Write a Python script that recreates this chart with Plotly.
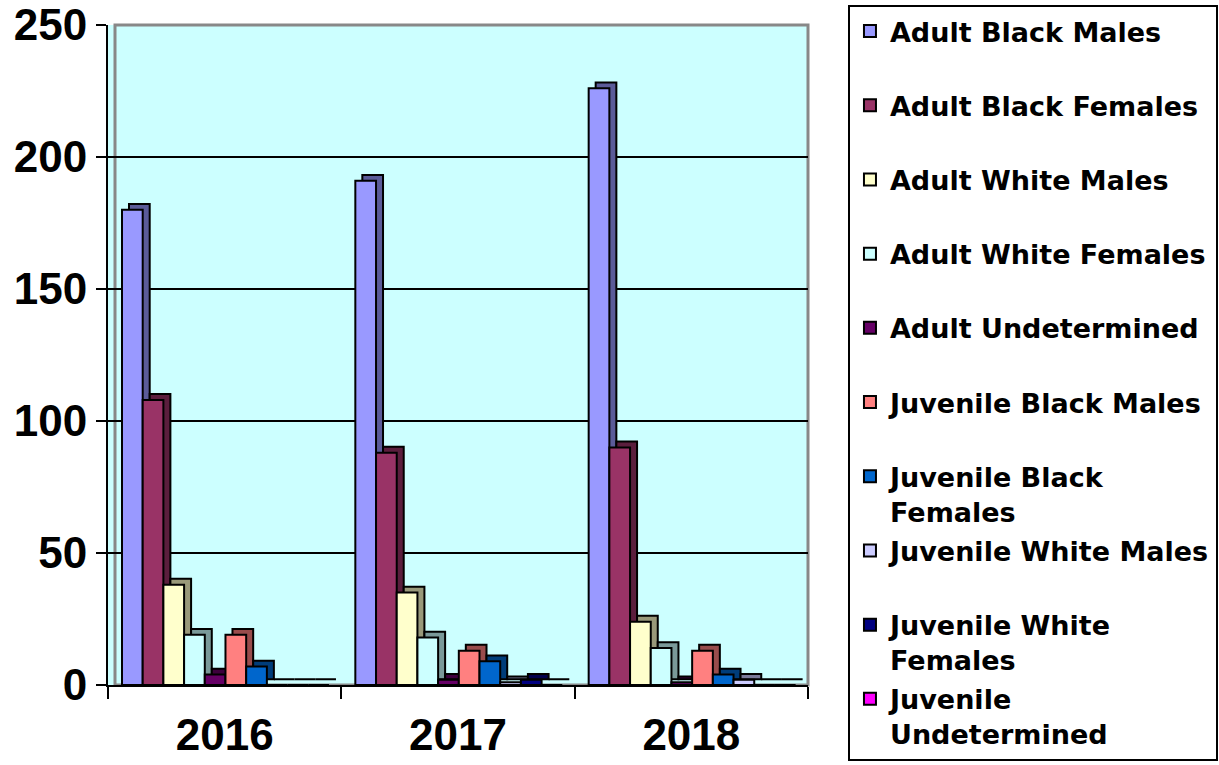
import plotly.graph_objects as go

years = ["2016", "2017", "2018"]
series_names = [
    "Adult Black Males",
    "Adult Black Females",
    "Adult White Males",
    "Adult White Females",
    "Adult Undetermined",
    "Juvenile Black Males",
    "Juvenile Black<br>Females",
    "Juvenile White Males",
    "Juvenile White<br>Females",
    "Juvenile<br>Undetermined",
]
adult_black_males = [180, 191, 226]
adult_black_females = [108, 88, 90]
adult_white_males = [38, 35, 24]
adult_white_females = [19, 18, 14]
adult_undetermined = [4, 2, 1]
juvenile_black_males = [19, 13, 13]
juvenile_black_females = [7, 9, 4]
juvenile_white_males = [0, 1, 2]
juvenile_white_females = [0, 2, 0]
juvenile_undetermined = [0, 0, 0]

values = [
    adult_black_males, adult_black_females, adult_white_males, adult_white_females,
    adult_undetermined, juvenile_black_males, juvenile_black_females,
    juvenile_white_males, juvenile_white_females, juvenile_undetermined,
]
colors = ["#9999FF", "#993366", "#FFFFCC", "#CCFFFF", "#660066",
          "#FF8080", "#0066CC", "#CCCCFF", "#000080", "#FF00FF"]


def darker(hex_color, f=0.6):
    h = hex_color.lstrip("#")
    r, g, b = (int(h[i:i + 2], 16) for i in (0, 2, 4))
    return "#%02X%02X%02X" % (int(r * f), int(g * f), int(b * f))


def legend_label(name):
    # every legend entry occupies two text lines, as in the reference
    return name if "<br>" in name else name + "<br> "


FONT = "Liberation Sans, Arial, sans-serif"
LEGEND_FONT = "DejaVu Sans, Liberation Sans, Arial, sans-serif"

# bar geometry (in category units) for a pseudo-3D look
BAR_W = 0.0887
START = -0.44
DEPTH_X = 0.03
DEPTH_Y = 2.2

fig = go.Figure()
for i, (name, vals, col) in enumerate(zip(series_names, values, colors)):
    off = START + i * BAR_W
    # side / top face (depth)
    fig.add_trace(go.Bar(
        x=years, y=vals, base=[DEPTH_Y] * len(vals),
        offset=off + DEPTH_X, width=BAR_W,
        marker_color=darker(col), marker_line_color="black", marker_line_width=2,
        showlegend=False, hoverinfo="skip",
    ))
    # front face
    fig.add_trace(go.Bar(
        x=years, y=vals, name=legend_label(name), offset=off, width=BAR_W,
        marker_color=col, marker_line_color="black", marker_line_width=2,
        legendgroup=f"g{i}",
    ))

fig.update_layout(
    width=1219, height=765,
    margin=dict(l=108, r=411, t=25, b=80, autoexpand=False),
    paper_bgcolor="white",
    plot_bgcolor="#CCFFFF",
    barmode="overlay",
    font=dict(family=FONT, color="black"),
    showlegend=True,
    legend=dict(
        x=1.0571, xanchor="left", y=1.0303, yanchor="top",
        bordercolor="black", borderwidth=2, bgcolor="white",
        font=dict(family=LEGEND_FONT, size=27, weight="bold", color="black"),
        tracegroupgap=1,
        valign="top",
        itemwidth=30,
        maxheight=1.0,
    ),
    xaxis=dict(
        automargin=False,
        showline=True, linecolor="black", linewidth=2,
        ticks="outside", tickson="boundaries", ticklen=12, tickwidth=2, tickcolor="black",
        tickfont=dict(family=FONT, size=44, weight="bold", color="black"),
        ticklabelstandoff=10,
        showgrid=False,
    ),
    yaxis=dict(
        automargin=False,
        range=[0, 250], dtick=50,
        showline=True, linecolor="black", linewidth=2,
        ticks="outside", ticklen=10, tickwidth=2, tickcolor="black",
        tickfont=dict(family=FONT, size=44, weight="bold", color="black"),
        showgrid=True, gridcolor="black", gridwidth=2,
        zeroline=False,
    ),
    shapes=[dict(
        type="rect", xref="paper", yref="paper", x0=0.01, x1=1, y0=0, y1=1,
        line=dict(color="#888888", width=3), layer="below",
    )],
)

fig.write_html(
    "out.html",
    config={"displayModeBar": False},
    post_script="document.body.style.margin='0px';",
)
